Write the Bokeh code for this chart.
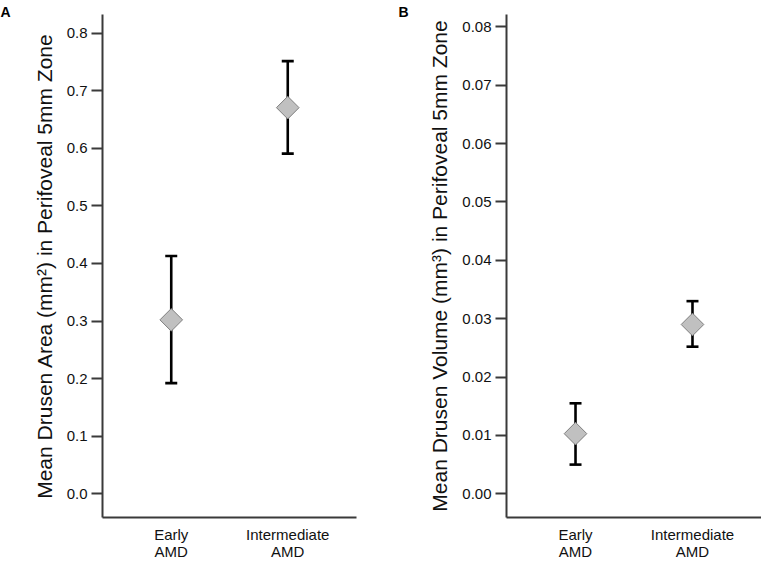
from bokeh.plotting import figure
from bokeh.models import (Whisker, TeeHead, ColumnDataSource, FixedTicker,
                          NumeralTickFormatter, Range1d)
from bokeh.layouts import row
from bokeh.embed import file_html
from bokeh.resources import INLINE
import math

# ---- data ----
groups = ["Early\nAMD", "Intermediate\nAMD"]

area_mean = [0.302, 0.671]
area_lower = [0.192, 0.591]
area_upper = [0.413, 0.752]
area_ticks = [0.0, 0.1, 0.2, 0.3, 0.4, 0.5, 0.6, 0.7, 0.8]

vol_mean = [0.0103, 0.0290]
vol_lower = [0.0050, 0.0252]
vol_upper = [0.0155, 0.0330]
vol_ticks = [0.0, 0.01, 0.02, 0.03, 0.04, 0.05, 0.06, 0.07, 0.08]

FONT = "Liberation Sans"
AXIS_COLOR = "#3a3a3a"
H = 562
BOTTOM = 45
TOP = 14


def make_panel(letter, means, lows, highs, yr, ticks, fmt, ylabel,
               width, left_border, right_border, letter_gap):
    xs = list(range(1, len(groups) + 1))
    src = ColumnDataSource(dict(x=xs, mean=means, lower=lows, upper=highs))
    p = figure(width=width, height=H, output_backend="svg", toolbar_location=None,
               x_range=Range1d(0.41, 2.59), y_range=Range1d(*yr),
               min_border_left=left_border, min_border_right=right_border,
               min_border_top=TOP, min_border_bottom=BOTTOM,
               title=letter, title_location="above")
    p.outline_line_color = None
    p.xgrid.visible = False
    p.ygrid.visible = False

    # panel letter (title pulled into the top-left corner)
    p.title.text_font = FONT
    p.title.text_font_size = "14px"
    p.title.text_font_style = "bold"
    p.title.text_color = "black"
    p.title.align = "left"
    p.title.vertical_align = "top"
    p.title.standoff = -14
    p.title.offset = -(letter_gap + 5)

    w = Whisker(base="x", lower="lower", upper="upper", source=src,
                line_color="black", line_width=2.6,
                lower_head=TeeHead(size=12, line_width=2.6, line_color="black"),
                upper_head=TeeHead(size=12, line_width=2.6, line_color="black"))
    p.add_layout(w)
    p.scatter("x", "mean", source=src, marker="square", angle=math.pi / 4,
              size=16, fill_color="#c0c0c0", line_color="#7f7f7f", line_width=1)

    # y axis
    ya = p.yaxis[0]
    ya.ticker = FixedTicker(ticks=ticks)
    ya.formatter = NumeralTickFormatter(format=fmt)
    ya.axis_label = ylabel
    ya.axis_label_text_font = FONT
    ya.axis_label_text_font_size = "21px"
    ya.axis_label_text_font_style = "normal"
    ya.axis_label_text_color = "#111111"
    ya.axis_label_standoff = 8
    ya.major_label_text_font = FONT
    ya.major_label_text_font_size = "15px"
    ya.major_label_text_color = "#111111"
    ya.major_label_standoff = 4
    ya.axis_line_color = AXIS_COLOR
    ya.axis_line_width = 2
    ya.major_tick_line_color = AXIS_COLOR
    ya.major_tick_line_width = 2
    ya.major_tick_out = 11
    ya.major_tick_in = 0
    ya.minor_tick_line_color = None

    # x axis
    xa = p.xaxis[0]
    xa.ticker = FixedTicker(ticks=xs)
    xa.major_label_overrides = {x: g for x, g in zip(xs, groups)}
    xa.major_label_text_font = FONT
    xa.major_label_text_font_size = "15px"
    xa.major_label_text_line_height = 1.0
    xa.major_label_text_color = "#111111"
    xa.major_label_standoff = 8
    xa.axis_line_color = AXIS_COLOR
    xa.axis_line_width = 2
    xa.major_tick_line_color = None
    xa.major_tick_out = 0
    xa.major_tick_in = 0
    xa.minor_tick_line_color = None
    return p


pA = make_panel("A", area_mean, area_lower, area_upper, (-0.0417, 0.833), area_ticks,
                "0.0", "Mean Drusen Area (mm²) in Perifoveal 5mm Zone",
                width=380, left_border=102, right_border=24, letter_gap=97)
pB = make_panel("B", vol_mean, vol_lower, vol_upper, (-0.00406, 0.0821), vol_ticks,
                "0.00", "Mean Drusen Volume (mm³) in Perifoveal 5mm Zone",
                width=381, left_border=126, right_border=0, letter_gap=103)

layout = row(pA, pB)
open("out.html", "w").write(file_html(layout, INLINE))
